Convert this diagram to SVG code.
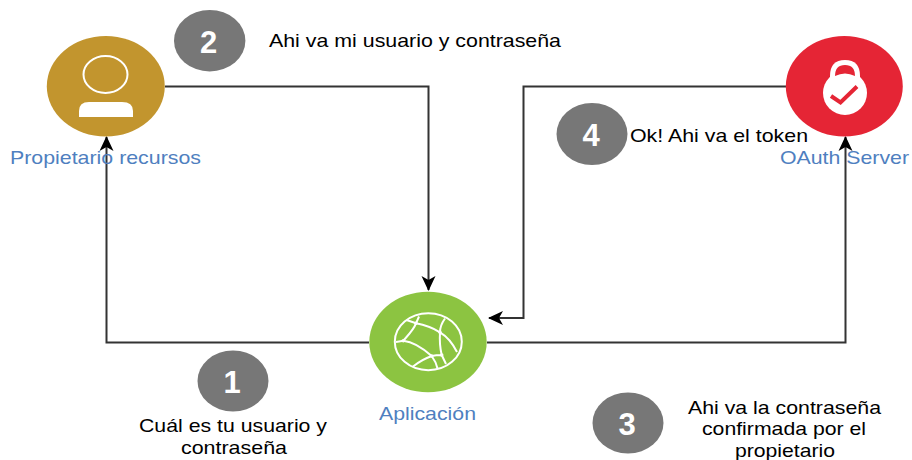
<svg xmlns="http://www.w3.org/2000/svg" width="912" height="460" viewBox="0 0 912 460">
<style>
.t{font-family:"Liberation Sans",Arial,sans-serif;font-size:19px;fill:#000;text-anchor:middle}
.b{font-family:"Liberation Sans",Arial,sans-serif;font-size:19px;fill:#4f7fc0;text-anchor:middle}
.n{font-family:"Liberation Sans",Arial,sans-serif;font-size:31px;font-weight:bold;fill:#fff;text-anchor:middle}
.g{fill:#777}
.c{fill:none;stroke:#333;stroke-width:2}
.w{fill:none;stroke:#fff;stroke-width:2}
</style>
<defs><marker id="a" viewBox="0 0 16 16" refX="14" refY="8" markerWidth="16" markerHeight="16" markerUnits="userSpaceOnUse" orient="auto"><path d="M0 1 L15 8 L0 15 L4 8 Z" fill="#000"/></marker></defs>
<rect width="912" height="460" fill="#fff"/>
<g id="connectors">
<path class="c" d="M165 86.500H428.500V290" marker-end="url(#a)"/>
<path class="c" d="M786 86.500H523.500V318H489" marker-end="url(#a)"/>
<path class="c" d="M369 342.500H106.500V137" marker-end="url(#a)"/>
<path class="c" d="M487 342.500H845.500V137" marker-end="url(#a)"/>
</g>
<g id="owner">
<ellipse cx="105.800" cy="86.300" rx="59" ry="50.300" fill="#c2952e"/>
<ellipse cx="105.500" cy="74.500" rx="22" ry="18.500" class="w"/>
<path d="M79 117V111Q79 102 89 102H122Q133 102 133 111V117Z" fill="#fff"/>
<text class="b" x="105.500" y="163.500" textLength="191" lengthAdjust="spacingAndGlyphs">Propietario recursos</text>
</g>
<g id="oauth">
<ellipse cx="844.300" cy="86.300" rx="58.500" ry="50.300" fill="#e52535"/>
<circle cx="845" cy="93" r="22" fill="#fff"/>
<path d="M830 85V76Q830 60 845 60Q860 60 860 76V85Z" fill="#fff"/>
<path d="M835 76Q835 65 845 65Q855 65 855 76Q845 71 835 76Z" fill="#e52535"/>
<path d="M831 96L840.500 102.500L857 86.500" fill="none" stroke="#e52535" stroke-width="4"/>
<text class="b" x="844.500" y="163.500" textLength="129" lengthAdjust="spacingAndGlyphs">OAuth Server</text>
</g>
<g id="app">
<ellipse cx="428" cy="342" rx="58.700" ry="50.300" fill="#8cc441"/>
<ellipse cx="428.300" cy="341.700" rx="33.500" ry="28.500" class="w"/>
<path class="w" d="M396 342L403.300 340.700C415 342 425 350 431.700 356C436 362 437 366 437.500 368.500M413 366.500C420 361 426 358 431.700 356C436 355 439 355 441.700 355L446 364M403.300 340.700C410 333 414 329 416 323.300L419 316.500M406.500 320L416 323.300C425 325 433 328 440 332.300C448 337 453 344 457 352M445 318.500C441 324 440 328 440 332.300C439.500 340 440 348 441.700 355L446 364"/>
<circle cx="416" cy="323.300" r="1.800" fill="#fff"/><circle cx="440" cy="332.300" r="1.800" fill="#fff"/><circle cx="403.300" cy="340.700" r="1.800" fill="#fff"/><circle cx="431.700" cy="356" r="1.800" fill="#fff"/><circle cx="441.700" cy="355" r="1.800" fill="#fff"/>
<text class="b" x="427.500" y="420" textLength="97" lengthAdjust="spacingAndGlyphs">Aplicación</text>
</g>
<g id="step1"><ellipse class="g" cx="233" cy="381" rx="35.500" ry="30.500"/><text class="n" x="232" y="393">1</text>
<text class="t" x="233" y="432" textLength="188" lengthAdjust="spacingAndGlyphs">Cuál es tu usuario y</text><text class="t" x="234" y="454" textLength="106" lengthAdjust="spacingAndGlyphs">contraseña</text></g>
<g id="step2"><ellipse class="g" cx="209.700" cy="40.700" rx="35.700" ry="30.700"/><text class="n" x="208.500" y="53">2</text>
<text class="t" x="415" y="46.500" textLength="292" lengthAdjust="spacingAndGlyphs">Ahi va mi usuario y contraseña</text></g>
<g id="step3"><ellipse class="g" cx="628" cy="423" rx="35.500" ry="30.500"/><text class="n" x="627" y="435">3</text>
<text class="t" x="784.500" y="414" textLength="193" lengthAdjust="spacingAndGlyphs">Ahi va la contraseña</text><text class="t" x="784" y="435" textLength="164" lengthAdjust="spacingAndGlyphs">confirmada por el</text><text class="t" x="785" y="457" textLength="100" lengthAdjust="spacingAndGlyphs">propietario</text></g>
<g id="step4"><ellipse class="g" cx="592" cy="134" rx="35.500" ry="31"/><text class="n" x="591" y="146">4</text>
<text class="t" x="719" y="141.500" textLength="178" lengthAdjust="spacingAndGlyphs">Ok! Ahi va el token</text></g>
</svg>
